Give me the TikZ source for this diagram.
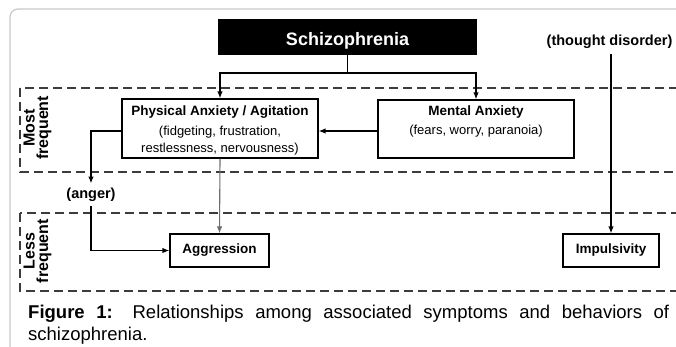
\documentclass[tikz,border=0pt]{standalone}
\usepackage{fontspec}
\setmainfont{Liberation Sans}
\usetikzlibrary{arrows.meta}
\definecolor{framegray}{RGB}{200,200,200}
\definecolor{arrgray}{RGB}{110,110,110}
\definecolor{zonegray}{RGB}{60,60,60}
\begin{document}
\begin{tikzpicture}[x=1pt,y=-1pt,
  box/.style={draw=black,line width=1.2pt,fill=white,inner sep=0pt},
  conn/.style={line width=1.3pt,-{Latex[length=7pt,width=5.5pt]}},
  plainline/.style={line width=1.3pt},
  zone/.style={draw=zonegray,line width=1.2pt,dash pattern=on 9pt off 5pt},
  titletext/.style={font=\fontsize{13.5}{16}\selectfont\bfseries,inner sep=0pt,anchor=base},
  detailtext/.style={font=\fontsize{13}{15}\selectfont,inner sep=0pt,anchor=base},
  sidetext/.style={rotate=90,align=center,font=\fontsize{16}{13.5}\selectfont\bfseries,inner sep=0pt},
  causetext/.style={font=\fontsize{14.5}{17}\selectfont\bfseries,inner xsep=0pt,inner ysep=4.5pt},
  captext/.style={font=\fontsize{18.5}{21.5}\selectfont,inner sep=0pt,anchor=base west}]
\useasboundingbox (0,0) rectangle (676,347);
\begin{scope}
  \clip (0,0) rectangle (676,347);
  \fill[white] (0,0) rectangle (676,347);
  \draw[framegray,line width=1.2pt,rounded corners=8pt] (10,420) -- (10,9) -- (720,9);
  \draw[zone] (20,88) rectangle (720,172);
  \draw[zone] (20,213) rectangle (720,291);
\end{scope}

% side labels
\node[sidetext] (most) at (37.5,128) {Most\\frequent};
\node[sidetext] (less) at (37.5,251) {Less\\frequent};

% top box
\node[box,fill=black,minimum width=257pt,minimum height=34pt] (schizo) at (347.5,37) {};
\node[font=\fontsize{18}{21}\selectfont\bfseries,text=white,inner sep=0pt,anchor=base] (schizot) at (347.5,45.5) {Schizophrenia};

% most frequent boxes
\node[box,minimum width=196pt,minimum height=59pt] (phys) at (220,128.5) {};
\node[titletext] (physa) at (220,116) {Physical Anxiety / Agitation};
\node[detailtext] (physb) at (220,135.5) {(fidgeting, frustration,};
\node[detailtext] (physc) at (220,152.5) {restlessness, nervousness)};

\node[box,minimum width=196pt,minimum height=58pt] (mental) at (476,129) {};
\node[titletext] (mentala) at (476,116) {Mental Anxiety};
\node[detailtext] (mentalb) at (476,135) {(fears, worry, paranoia)};

% less frequent boxes
\node[box,minimum width=99pt,minimum height=33pt,font=\fontsize{13.5}{16}\selectfont\bfseries] (aggr) at (219.5,250.5) {Aggression};
\node[box,minimum width=96pt,minimum height=33pt,font=\fontsize{13.5}{16}\selectfont\bfseries] (impuls) at (611,250.5) {Impulsivity};

% cause labels
\node[causetext] (anger) at (91,195) {(anger)};
\node[causetext,inner ysep=5pt] (thought) at (609.5,42) {(thought disorder)};

% connectors
\coordinate (split) at (347.5,73);
\draw[plainline] (schizo.south) -- (split);
\draw[conn] (split) -| (phys.north);
\draw[conn] (split) -| (mental.north);
\draw[conn] ([yshift=-2pt]mental.west) -- ([yshift=-2pt]mental.west -| phys.east);
\draw[conn] ([yshift=-2.5pt]phys.west) -| (anger.north);
\draw[conn] (anger.south) |- (aggr.west);
\draw[conn,draw=arrgray,line width=1.1pt] (phys.south) -- (aggr.north);
\draw[conn] (thought.south -| impuls.north) -- (impuls.north);

% caption
\node[captext] (cap1) at (28,318) {\makebox[641pt][s]{\textbf{Figure 1:} Relationships among associated symptoms and behaviors of}};
\node[captext] (cap2) at (28,340) {schizophrenia.};
\end{tikzpicture}
\end{document}
